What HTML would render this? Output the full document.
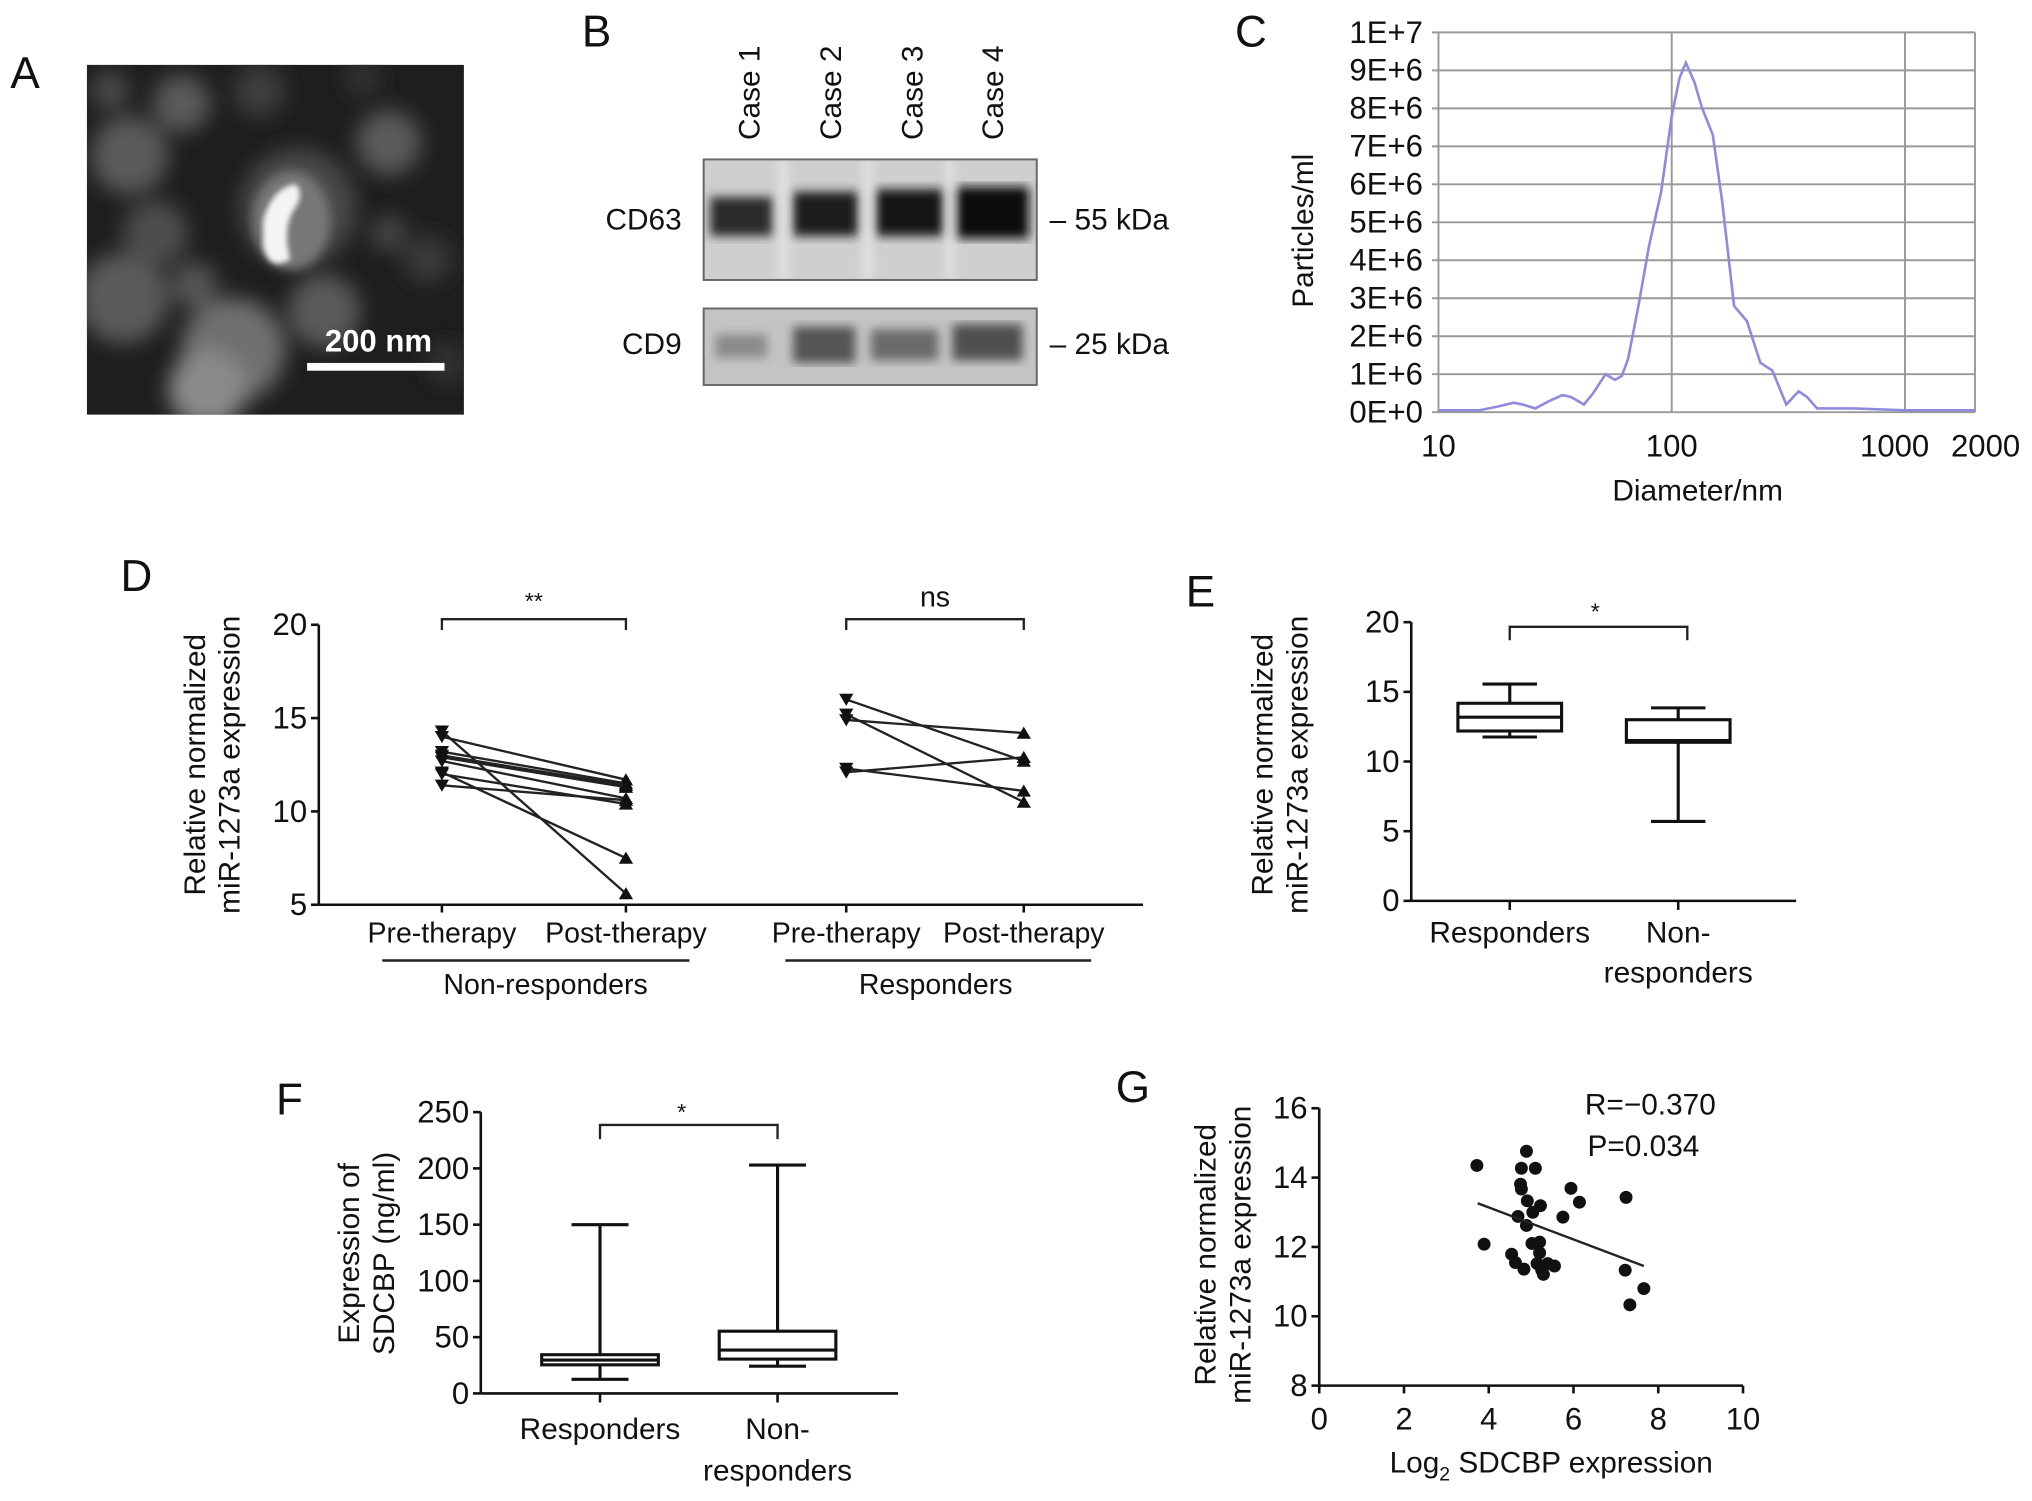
<!DOCTYPE html>
<html><head><meta charset="utf-8"><style>
html,body{margin:0;padding:0;background:#fff}
svg{display:block;font-family:"Liberation Sans",Arial,sans-serif}
</style></head><body>
<svg id="fig" width="2032" height="1501" viewBox="0 0 1568 1158" preserveAspectRatio="none" xmlns="http://www.w3.org/2000/svg">
<defs>
<filter id="blur4"><feGaussianBlur stdDeviation="4"/></filter>
<filter id="blur8"><feGaussianBlur stdDeviation="8"/></filter>
<filter id="blur2"><feGaussianBlur stdDeviation="2"/></filter>
<clipPath id="clipA"><rect x="67" y="50" width="291" height="270"/></clipPath>
<clipPath id="clipB1"><rect x="543" y="123" width="257" height="93"/></clipPath>
<clipPath id="clipB2"><rect x="543" y="238" width="257" height="59"/></clipPath>
</defs>
<g font-size="34" fill="#111">
<text x="8" y="68">A</text>
<text x="449" y="36">B</text>
<text x="953" y="36">C</text>
<text x="93" y="456">D</text>
<text x="915" y="468">E</text>
<text x="213" y="860">F</text>
<text x="861" y="850">G</text>
</g>
<!-- Panel A -->
<g clip-path="url(#clipA)">
<rect x="67" y="50" width="291" height="270" fill="#1e1e1e"/>
<g filter="url(#blur8)" fill="#5a5a5a">
<circle cx="100" cy="120" r="30"/><circle cx="140" cy="80" r="22"/><circle cx="95" cy="230" r="35"/>
<circle cx="180" cy="270" r="40" fill="#707070"/><circle cx="230" cy="160" r="45" fill="#4a4a4a"/>
<circle cx="300" cy="110" r="25"/><circle cx="160" cy="300" r="30" fill="#8a8a8a"/><circle cx="250" cy="240" r="28"/>
<circle cx="330" cy="200" r="18" fill="#3a3a3a"/><circle cx="120" cy="180" r="25" fill="#4e4e4e"/>
<circle cx="200" cy="70" r="20" fill="#3e3e3e"/><circle cx="85" cy="70" r="15" fill="#484848"/>
<circle cx="150" cy="220" r="18" fill="#555"/><circle cx="280" cy="60" r="14" fill="#333"/>
<circle cx="345" cy="280" r="16" fill="#303030"/><circle cx="300" cy="180" r="14" fill="#444"/>
</g>
<g filter="url(#blur4)"><ellipse cx="225" cy="170" rx="30" ry="38" fill="#777"/></g>
<path d="M203 170 Q210 145 228 142 Q236 150 226 163 Q218 178 224 200 Q208 210 203 190 Z" fill="#f4f4f4" filter="url(#blur2)"/>
<rect x="237" y="280" width="106" height="6" fill="#fff"/>
<text x="292" y="271" text-anchor="middle" font-size="24" font-weight="bold" fill="#fff">200 nm</text>
</g>
<!-- Panel B -->
<g font-size="22" fill="#111">
<g font-size="23">
<text transform="translate(586,108) rotate(-90)">Case 1</text>
<text transform="translate(649,108) rotate(-90)">Case 2</text>
<text transform="translate(712,108) rotate(-90)">Case 3</text>
<text transform="translate(774,108) rotate(-90)">Case 4</text>
</g>
<g clip-path="url(#clipB1)"><rect x="543" y="123" width="257" height="93" fill="#cfcfcf"/>
<g filter="url(#blur4)" fill="#1c1c1c">
<rect x="548" y="152" width="48" height="30" fill="#2a2a2a"/><rect x="612" y="148" width="50" height="34"/><rect x="676" y="146" width="52" height="36" fill="#141414"/><rect x="738" y="144" width="56" height="40" fill="#0e0e0e"/>
</g>
<g filter="url(#blur4)" fill="#eaeaea" opacity="0.8"><rect x="601" y="123" width="7" height="93"/><rect x="666" y="123" width="7" height="93"/><rect x="730" y="123" width="6" height="93"/></g>
</g>
<rect x="543" y="123" width="257" height="93" fill="none" stroke="#666" stroke-width="1.5"/>
<g clip-path="url(#clipB2)"><rect x="543" y="238" width="257" height="59" fill="#c4c4c4"/>
<g filter="url(#blur4)"><rect x="552" y="258" width="40" height="18" fill="#8a8a8a"/><rect x="612" y="252" width="48" height="28" fill="#555"/><rect x="672" y="254" width="52" height="24" fill="#6a6a6a"/><rect x="735" y="250" width="54" height="28" fill="#505050"/></g>
</g>
<rect x="543" y="238" width="257" height="59" fill="none" stroke="#666" stroke-width="1.5"/>
<text x="526" y="177" text-anchor="end" font-size="23">CD63</text>
<text x="526" y="273" text-anchor="end" font-size="23">CD9</text>
<text x="810" y="177" font-size="23">– 55 kDa</text>
<text x="810" y="273" font-size="23">– 25 kDa</text>
</g>
<g id="panelC"></g>
<g id="panelD"></g>
<g id="panelE"></g>
<g id="panelF"></g>
<g id="panelG"></g>
</svg>
<script>
// Panel C data
const cDiam = [10,15,18,21,23,26,30,34,37,42,46,52,57,61,65,72,80,90,100,108,115,125,135,150,165,185,210,240,270,310,350,380,420,600,1000,2000];
const cVal  = [0.05,0.05,0.15,0.25,0.2,0.1,0.3,0.45,0.4,0.2,0.5,1.0,0.85,0.95,1.4,2.8,4.4,5.8,7.8,8.8,9.2,8.7,8.0,7.3,5.5,2.8,2.4,1.3,1.1,0.2,0.55,0.4,0.1,0.1,0.05,0.05];
const cYTicks = [0,1,2,3,4,5,6,7,8,9,10];
const cYLabels = ["0E+0","1E+6","2E+6","3E+6","4E+6","5E+6","6E+6","7E+6","8E+6","9E+6","1E+7"];
const cXTicks = [10,100,1000,2000];
// Panel D data
const dNRPre  = [14.3,14.0,13.2,13.0,12.9,12.7,12.1,12.0,11.4];
const dNRPost = [5.6,11.7,11.5,11.4,11.3,10.7,7.5,10.4,10.6];
const dRPre   = [16.0,15.2,14.9,12.3,12.1];
const dRPost  = [12.7,10.5,14.2,11.1,12.9];
const dYTicks = [5,10,15,20];
const dCats = ["Pre-therapy","Post-therapy","Pre-therapy","Post-therapy"];
// Panel E data [min,q1,med,q3,max]
const eCats = ["Responders","Non-responders"];
const eResp = [11.76,12.19,13.18,14.18,15.56];
const eNon  = [5.7,11.38,11.5,13.0,13.85];
const eYTicks = [0,5,10,15,20];
// Panel F data
const fResp = [12.5,25.4,29.6,34.4,150];
const fNon  = [24.2,30.5,38.5,55.3,203];
const fYTicks = [0,50,100,150,200,250];
// Panel G data
const gX = [3.72,3.89,4.89,4.77,5.1,4.75,4.77,4.91,5.22,5.04,4.69,4.89,5.75,5.94,6.14,7.24,5.02,5.2,4.54,4.63,4.83,5.2,5.14,5.25,5.29,5.39,5.55,7.22,7.66,7.33];
const gY = [14.35,12.08,14.76,14.27,14.27,13.81,13.67,13.33,13.19,13.0,12.88,12.62,12.86,13.69,13.29,13.43,12.1,12.14,11.79,11.55,11.36,11.83,11.52,11.33,11.21,11.52,11.45,11.33,10.8,10.33];
const gFit = [3.74,13.26,7.66,11.45];
const gXTicks = [0,2,4,6,8,10];
const gYTicks = [8,10,12,14,16];

const NS="http://www.w3.org/2000/svg";
function mk(parent,tag,attrs,txt){const e=document.createElementNS(NS,tag);for(const k in attrs)e.setAttribute(k,attrs[k]);if(txt!==undefined)e.textContent=txt;parent.appendChild(e);return e;}

// ---- Panel C ----
(function(){
 const g=document.getElementById('panelC');
 const L=1110,R=1524,T=25,B=318;
 const x=d=>L+(Math.log10(d)-1)*180;
 const y=v=>B-(v/10)*(B-T);
 cYTicks.forEach((t,i)=>{
  const ln=mk(g,'line',{x1:L-5,x2:R,y1:y(t),y2:y(t),stroke:'#999','stroke-width':1.5});
  
  
  const tx=mk(g,'text',{x:L-12,y:y(t)+8,'text-anchor':'end','font-size':24,fill:'#111'},cYLabels[i]);
  
  
 });
 [100,1000].forEach(d=>{const v=mk(g,'line',{x1:x(d),x2:x(d),y1:T,y2:B,stroke:'#999','stroke-width':1.5});
  });
 mk(g,'line',{x1:L,x2:L,y1:T,y2:B,stroke:'#999','stroke-width':1.5});
 mk(g,'line',{x1:R,x2:R,y1:T,y2:B,stroke:'#999','stroke-width':1.5});
 cXTicks.forEach(d=>{
  const tx=mk(g,'text',{x:x(d)+(d===1000?-8:(d===2000?8:0)),y:352,'text-anchor':'middle','font-size':24,fill:'#111'},String(d));
  
  
 });
 const p=cDiam.map((d,i)=>(i?'L':'M')+x(d).toFixed(1)+' '+y(cVal[i]).toFixed(1)).join(' ');
 const path=mk(g,'path',{d:p,fill:'none',stroke:'#8f8ae0','stroke-width':2});
 
 
 const xt=mk(g,'text',{x:1310,y:386,'text-anchor':'middle','font-size':23,fill:'#111'},'Diameter/nm');
 
 const yt=mk(g,'text',{transform:'translate(1013,178) rotate(-90)','text-anchor':'middle','font-size':23,fill:'#111'},'Particles/ml');
 
})();

function tri(g,cx,cy,down){const s=5.5;const d=down?`M${cx-s} ${cy-s*0.8} L${cx+s} ${cy-s*0.8} L${cx} ${cy+s*0.9} Z`:`M${cx-s} ${cy+s*0.8} L${cx+s} ${cy+s*0.8} L${cx} ${cy-s*0.9} Z`;return mk(g,'path',{d:d,fill:'#111'});}
function ytitle(g,cx,cy,lines,name){const t=mk(g,'text',{transform:`translate(${cx},${cy}) rotate(-90)`,'text-anchor':'middle','font-size':23,fill:'#111'});
 lines.forEach((l,i)=>mk(t,'tspan',{x:0,dy:i?27:0},l));}

// ---- Panel D ----
(function(){
 const g=document.getElementById('panelD');
 const AX=246,B=698,xEnd=882;
 const y=v=>B-(v-5)*14.4;
 const xs=[341,483,653,790];
 mk(g,'line',{x1:AX,x2:AX,y1:y(20),y2:B,stroke:'#111','stroke-width':2});
 mk(g,'line',{x1:AX,x2:xEnd,y1:B,y2:B,stroke:'#111','stroke-width':2});
 dYTicks.forEach(t=>{mk(g,'line',{x1:AX-6,x2:AX,y1:y(t),y2:y(t),stroke:'#111','stroke-width':2});
  const tx=mk(g,'text',{x:AX-9,y:y(t)+8,'text-anchor':'end','font-size':24,fill:'#111'},String(t));
  });
 xs.forEach((xx,i)=>{mk(g,'line',{x1:xx,x2:xx,y1:B,y2:B+6,stroke:'#111','stroke-width':2});
  const tx=mk(g,'text',{x:xx,y:727,'text-anchor':'middle','font-size':22,fill:'#111'},dCats[i]);
  });
 function pairs(pre,post,x0,x1,nm){pre.forEach((v,i)=>{
  const ln=mk(g,'line',{x1:x0,y1:y(v),x2:x1,y2:y(post[i]),stroke:'#222','stroke-width':1.8});
  
  const a=tri(g,x0,y(v),true);
  const b=tri(g,x1,y(post[i]),false);});}
 pairs(dNRPre,dNRPost,xs[0],xs[1],'d-nonresponder');
 pairs(dRPre,dRPost,xs[2],xs[3],'d-responder');
 [[xs[0],xs[1],'**'],[xs[2],xs[3],'ns']].forEach(b=>{
  const p=mk(g,'path',{d:`M${b[0]} ${y(20)+4} V${y(20.3)} H${b[1]} V${y(20)+4}`,fill:'none',stroke:'#222','stroke-width':1.8});
  
  mk(g,'text',{x:(b[0]+b[1])/2,y:b[2]==='ns'?468:470,'text-anchor':'middle','font-size':b[2]==='ns'?22:18,fill:'#111'},b[2]);});
 mk(g,'line',{x1:295,x2:532,y1:741,y2:741,stroke:'#222','stroke-width':2});
 mk(g,'line',{x1:606,x2:842,y1:741,y2:741,stroke:'#222','stroke-width':2});
 mk(g,'text',{x:421,y:767,'text-anchor':'middle','font-size':22,fill:'#111'},'Non-responders');
 mk(g,'text',{x:722,y:767,'text-anchor':'middle','font-size':22,fill:'#111'},'Responders');
 ytitle(g,158,590,['Relative normalized','miR-1273a expression'],'d-y-axis-title');
})();

function boxplot(g,xc,hw,cap,s,y,nm){
 const [mn,q1,md,q3,mx]=s;
 const w=mk(g,'path',{d:`M${xc} ${y(mx)} V${y(q3)} M${xc} ${y(q1)} V${y(mn)} M${xc-cap} ${y(mx)} H${xc+cap} M${xc-cap} ${y(mn)} H${xc+cap}`,stroke:'#111','stroke-width':2.4,fill:'none'});
 
 const r=mk(g,'rect',{x:xc-hw,y:y(q3),width:hw*2,height:y(q1)-y(q3),fill:'#fff',stroke:'#111','stroke-width':2.4});
 
 const m=mk(g,'line',{x1:xc-hw,x2:xc+hw,y1:y(md),y2:y(md),stroke:'#111','stroke-width':2.4});
 
}

// ---- Panel E ----
(function(){
 const g=document.getElementById('panelE');
 const AX=1089,B=695,T=480,xEnd=1386;
 const y=v=>B-v*(B-T)/20;
 const xs=[1165,1295];
 mk(g,'line',{x1:AX,x2:AX,y1:T,y2:B,stroke:'#111','stroke-width':2});
 mk(g,'line',{x1:AX,x2:xEnd,y1:B,y2:B,stroke:'#111','stroke-width':2});
 eYTicks.forEach(t=>{mk(g,'line',{x1:AX-6,x2:AX,y1:y(t),y2:y(t),stroke:'#111','stroke-width':2});
  const tx=mk(g,'text',{x:AX-9,y:y(t)+8,'text-anchor':'end','font-size':24,fill:'#111'},String(t));
  });
 xs.forEach(xx=>mk(g,'line',{x1:xx,x2:xx,y1:B,y2:B+7,stroke:'#111','stroke-width':2}));
 mk(g,'text',{x:1165,y:727,'text-anchor':'middle','font-size':23,fill:'#111'},'Responders');
 const t=mk(g,'text',{x:1295,y:727,'text-anchor':'middle','font-size':23,fill:'#111'});
 mk(t,'tspan',{x:1295,dy:0},'Non-');mk(t,'tspan',{x:1295,dy:31},'responders');
 boxplot(g,xs[0],40,21,eResp,y,'e-responders');
 boxplot(g,xs[1],40,21,eNon,y,'e-nonresponders');
 mk(g,'path',{d:`M${xs[0]} ${y(18.7)} V${y(19.67)} H${xs[1]+7} V${y(18.7)}`,fill:'none',stroke:'#222','stroke-width':1.8});
 mk(g,'text',{x:1231,y:478,'text-anchor':'middle','font-size':18,fill:'#111'},'*');
 ytitle(g,982,590,['Relative normalized','miR-1273a expression'],'e-y-axis-title');
})();

// ---- Panel F ----
(function(){
 const g=document.getElementById('panelF');
 const AX=371,B=1075,xEnd=693;
 const y=v=>B-v*0.868;
 const xs=[463,600];
 mk(g,'line',{x1:AX,x2:AX,y1:y(250),y2:B,stroke:'#111','stroke-width':2});
 mk(g,'line',{x1:AX,x2:xEnd,y1:B,y2:B,stroke:'#111','stroke-width':2});
 fYTicks.forEach(t=>{mk(g,'line',{x1:AX-6,x2:AX,y1:y(t),y2:y(t),stroke:'#111','stroke-width':2});
  const tx=mk(g,'text',{x:AX-9,y:y(t)+8,'text-anchor':'end','font-size':24,fill:'#111'},String(t));
  });
 xs.forEach(xx=>mk(g,'line',{x1:xx,x2:xx,y1:B,y2:B+7,stroke:'#111','stroke-width':2}));
 mk(g,'text',{x:463,y:1110,'text-anchor':'middle','font-size':23,fill:'#111'},'Responders');
 const t=mk(g,'text',{x:600,y:1110,'text-anchor':'middle','font-size':23,fill:'#111'});
 mk(t,'tspan',{x:600,dy:0},'Non-');mk(t,'tspan',{x:600,dy:32},'responders');
 boxplot(g,xs[0],45,22,fResp,y,'f-responders');
 boxplot(g,xs[1],45,22,fNon,y,'f-nonresponders');
 mk(g,'path',{d:`M${xs[0]} ${y(226)} V${y(238.6)} H${xs[1]} V${y(226)}`,fill:'none',stroke:'#222','stroke-width':1.8});
 mk(g,'text',{x:526,y:864,'text-anchor':'middle','font-size':18,fill:'#111'},'*');
 ytitle(g,277,967,['Expression of','SDCBP (ng/ml)'],'f-y-axis-title');
})();

// ---- Panel G ----
(function(){
 const g=document.getElementById('panelG');
 const L=1018,R=1345,T=855,B=1069;
 const x=v=>L+v*(R-L)/10;
 const y=v=>B-(v-8)*(B-T)/8;
 mk(g,'line',{x1:L,x2:L,y1:T,y2:B,stroke:'#111','stroke-width':2});
 mk(g,'line',{x1:L,x2:R,y1:B,y2:B,stroke:'#111','stroke-width':2});
 gYTicks.forEach(t=>{mk(g,'line',{x1:L-6,x2:L,y1:y(t),y2:y(t),stroke:'#111','stroke-width':2});
  const tx=mk(g,'text',{x:L-9,y:y(t)+8,'text-anchor':'end','font-size':24,fill:'#111'},String(t));
  });
 gXTicks.forEach(t=>{mk(g,'line',{x1:x(t),x2:x(t),y1:B,y2:B+6,stroke:'#111','stroke-width':2});
  const tx=mk(g,'text',{x:x(t),y:B+34,'text-anchor':'middle','font-size':24,fill:'#111'},String(t));
  });
 gX.forEach((v,i)=>{const c=mk(g,'circle',{cx:x(v),cy:y(gY[i]),r:5,fill:'#111'});
  });
 const fl=mk(g,'line',{x1:x(gFit[0]),y1:y(gFit[1]),x2:x(gFit[2]),y2:y(gFit[3]),stroke:'#222','stroke-width':1.8});
 
 mk(g,'text',{x:1223,y:860,'font-size':23,fill:'#111'},'R=\u22120.370');
 mk(g,'text',{x:1225,y:892,'font-size':23,fill:'#111'},'P=0.034');
 const xt=mk(g,'text',{x:1197,y:1136,'text-anchor':'middle','font-size':23,fill:'#111'});
 mk(xt,'tspan',{},'Log');mk(xt,'tspan',{'font-size':15,dy:6},'2');mk(xt,'tspan',{dy:-6},' SDCBP expression');
 
 ytitle(g,938,968,['Relative normalized','miR-1273a expression'],'g-y-axis-title');
})();
</script>
</body></html>
